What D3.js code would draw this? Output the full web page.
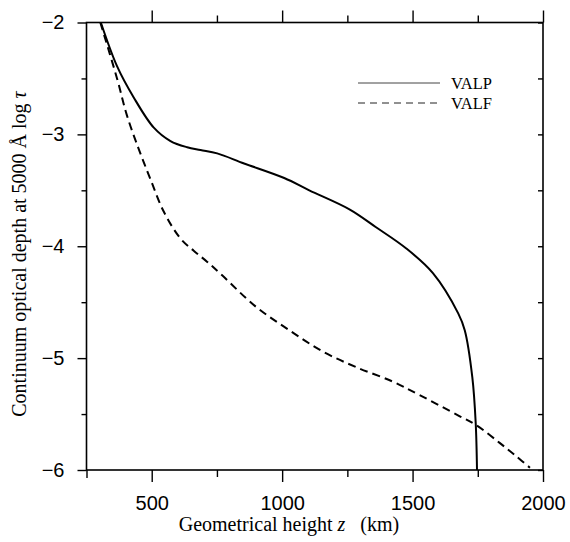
<!DOCTYPE html>
<html lang="en">
<head>
    <meta charset="UTF-8">
    <title>Optical depth vs height</title>
    <script src="https://d3js.org/d3.v7.min.js"></script>
    <style>
        body { margin: 0; background: #fff; }
    </style>
</head>
<body>
<svg id="chart"></svg>
<script>
    const width = 570;
    const height = 542;

    // VALP model: height z (km) and log tau
    const valpZ   = [305, 367, 431, 508, 572, 636, 687, 751, 854, 1008, 1104, 1258, 1360, 1476, 1578, 1675, 1700, 1729, 1742, 1747];
    const valpTau = [-2.0, -2.39, -2.67, -2.94, -3.06, -3.115, -3.14, -3.17, -3.26, -3.39, -3.50, -3.67, -3.83, -4.02, -4.24, -4.60, -4.75, -5.17, -5.58, -6.0];

    // VALF model
    const valfZ   = [303, 367, 405, 450, 495, 546, 610, 661, 713, 770, 899, 1027, 1155, 1283, 1424, 1527, 1681, 1745, 1835, 1899, 1950];
    const valfTau = [-2.0, -2.50, -2.83, -3.13, -3.40, -3.69, -3.93, -4.04, -4.14, -4.26, -4.54, -4.75, -4.94, -5.08, -5.21, -5.33, -5.52, -5.60, -5.76, -5.88, -5.98];

    const xTicks = [500, 1000, 1500, 2000];
    const xMinor = [750, 1250, 1750];
    const yTicks = [-2, -3, -4, -5, -6];
    const yMinor = [-2.5, -3.5, -4.5, -5.5];

    const sans = "'Liberation Sans', Arial, sans-serif";
    const serif = "'Liberation Serif', 'Times New Roman', serif";

    const x = d3.scaleLinear().domain([250, 2000]).range([86.5, 543]);
    const y = d3.scaleLinear().domain([-2, -6]).range([22.5, 470]);

    const svg = d3.select("#chart")
        .attr("width", width)
        .attr("height", height);

    // frame
    svg.append("rect")
        .attr("x", x(250)).attr("y", y(-2))
        .attr("width", x(2000) - x(250))
        .attr("height", y(-6) - y(-2))
        .attr("fill", "none")
        .attr("stroke", "black")
        .attr("stroke-width", 1.6);

    // bottom axis: ticks pointing out (down)
    svg.append("g")
        .attr("transform", `translate(0,${y(-6)})`)
        .call(d3.axisBottom(x).tickValues(xTicks).tickSize(12).tickPadding(14).tickFormat(d3.format("d")));
    svg.append("g")
        .attr("transform", `translate(0,${y(-6)})`)
        .call(d3.axisBottom(x).tickValues(xMinor).tickSize(7).tickFormat(""));
    // corner tick at bottom-left
    svg.append("g")
        .attr("transform", `translate(0,${y(-6)})`)
        .call(d3.axisBottom(x).tickValues([250]).tickSize(8).tickFormat(""));

    // top axis: ticks pointing up
    svg.append("g")
        .attr("transform", `translate(0,${y(-2)})`)
        .call(d3.axisTop(x).tickValues(xTicks).tickSize(12).tickFormat(""));
    svg.append("g")
        .attr("transform", `translate(0,${y(-2)})`)
        .call(d3.axisTop(x).tickValues(xMinor).tickSize(7).tickFormat(""));

    // left axis: ticks pointing out (left)
    svg.append("g")
        .attr("transform", `translate(${x(250)},0)`)
        .call(d3.axisLeft(y).tickValues(yTicks).tickSize(9).tickPadding(13)
            .tickFormat(d => "\u2212" + Math.abs(d)));
    svg.append("g")
        .attr("transform", `translate(${x(250)},0)`)
        .call(d3.axisLeft(y).tickValues(yMinor).tickSize(5).tickFormat(""));

    // right axis: small inward ticks
    svg.append("g")
        .attr("transform", `translate(${x(2000)},0)`)
        .call(d3.axisRight(y).tickValues(yTicks.concat(yMinor)).tickSize(-5).tickFormat(""));

    svg.selectAll(".domain").remove();
    svg.selectAll(".tick line").attr("stroke", "black").attr("stroke-width", 1.4);
    svg.selectAll(".tick text")
        .attr("fill", "black")
        .style("font-family", sans)
        .style("font-size", "20px");

    // curves
    const line = d3.line()
        .x(d => x(d[0]))
        .y(d => y(d[1]))
        .curve(d3.curveCatmullRom);

    const valp = valpZ.map((z, i) => [z, valpTau[i]]);
    const valf = valfZ.map((z, i) => [z, valfTau[i]]);

    svg.append("path")
        .datum(valp)
        .attr("d", line)
        .attr("fill", "none")
        .attr("stroke", "black")
        .attr("stroke-width", 2);

    svg.append("path")
        .datum(valf)
        .attr("d", line)
        .attr("fill", "none")
        .attr("stroke", "black")
        .attr("stroke-width", 2)
        .attr("stroke-dasharray", "8,5");

    // legend
    const legend = svg.append("g");
    legend.append("line")
        .attr("x1", 358).attr("x2", 440).attr("y1", 83).attr("y2", 83)
        .attr("stroke", "#444").attr("stroke-width", 1);
    legend.append("line")
        .attr("x1", 358).attr("x2", 440).attr("y1", 103).attr("y2", 103)
        .attr("stroke", "#222").attr("stroke-width", 1)
        .attr("stroke-dasharray", "7,5");
    legend.selectAll("text")
        .data(["VALP", "VALF"])
        .join("text")
        .attr("x", 451)
        .attr("y", (d, i) => 89 + i * 20)
        .style("font-family", serif)
        .style("font-size", "16.5px")
        .text(d => d);

    // axis titles
    const xt = svg.append("text")
        .attr("x", 289).attr("y", 531)
        .attr("text-anchor", "middle")
        .style("font-family", serif)
        .style("font-size", "20px");
    xt.append("tspan").text("Geometrical height ");
    xt.append("tspan").attr("font-style", "italic").text("z");
    xt.append("tspan").text("\u2002 (km)");

    const yt = svg.append("text")
        .attr("transform", "translate(26,254) rotate(-90)")
        .attr("text-anchor", "middle")
        .style("font-family", serif)
        .style("font-size", "20px");
    yt.append("tspan").text("Continuum optical depth at 5000 \u00c5 log ");
    yt.append("tspan").attr("font-style", "italic").text("\u03c4");
</script>
</body>
</html>
